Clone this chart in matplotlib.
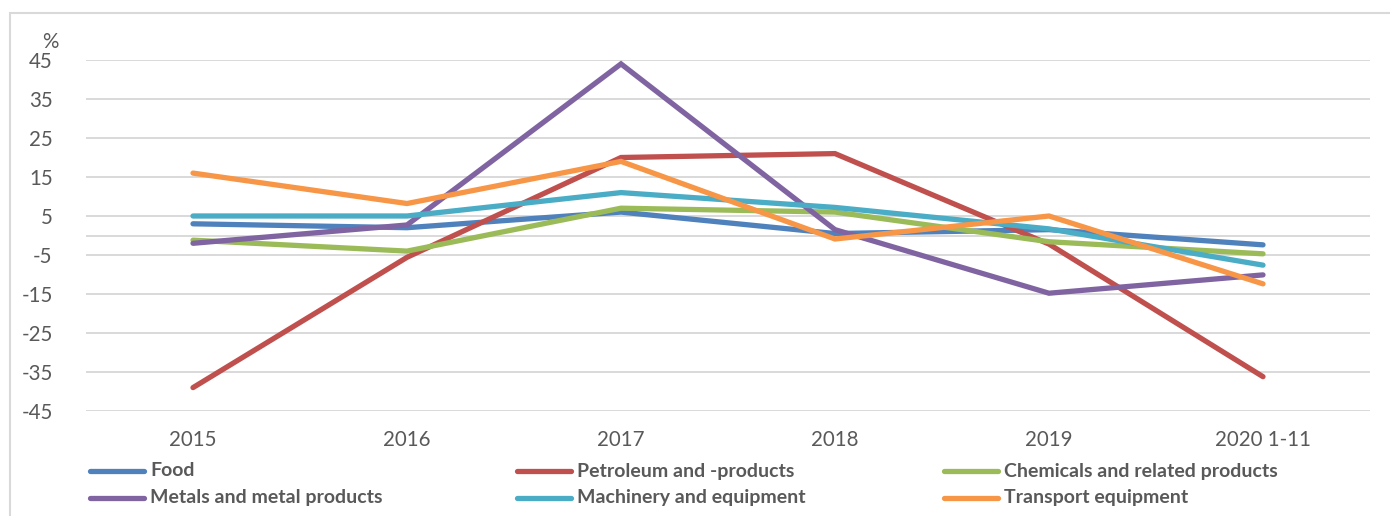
import numpy as np
from matplotlib import pyplot as plt
from matplotlib.lines import Line2D
from matplotlib.patches import Rectangle

years = ['2015', '2016', '2017', '2018', '2019', '2020 1-11']

food = [3, 2, 6, 0.5, 1.5, -2.4]
petroleum = [-39, -5.6, 20, 21, -2.2, -36.2]
chemicals = [-1.2, -4, 7, 6, -1.6, -4.7]
metals = [-2, 2.7, 44, 1.5, -14.8, -10.1]
machinery = [5, 5, 11, 7.2, 1.7, -7.6]
transport = [16, 8.2, 19, -0.9, 5, -12.4]

series = [
    ('Food', food, '#4F81BD'),
    ('Petroleum and -products', petroleum, '#C0504D'),
    ('Chemicals and related products', chemicals, '#9BBB59'),
    ('Metals and metal products', metals, '#8064A2'),
    ('Machinery and equipment', machinery, '#4BACC6'),
    ('Transport equipment', transport, '#F79646'),
]

W, H = 1390, 516
fig = plt.figure(figsize=(W / 100, H / 100), dpi=100)
ax = fig.add_axes([86 / W, 1 - 411 / H, (1370 - 86) / W, (411 - 60) / H])

# chart frame (only left and top edges show)
fig.add_artist(Rectangle((10 / W, -0.1), 1.2, 1.1 - 13 / H, transform=fig.transFigure,
                         fill=False, edgecolor='#D9D9D9', linewidth=1.5))

x = np.arange(len(years))
for name, vals, col in series:
    ax.plot(x, vals, color=col, linewidth=3.8, solid_capstyle='round',
            solid_joinstyle='miter', zorder=3)

ax.set_xlim(-0.5, len(years) - 0.5)
ax.set_ylim(-45, 45)
yt = np.arange(-45, 46, 10)
ax.set_yticks(yt)
ax.set_yticklabels([str(v) for v in yt])
ax.set_xticks(x)
ax.set_xticklabels(years)
for v in list(yt) + [0]:
    ax.axhline(v, color='#D9D9D9', linewidth=1.4, zorder=1)
for s in ax.spines.values():
    s.set_visible(False)
ax.tick_params(length=0, labelsize=14.8, labelcolor='#595959')
ax.tick_params(axis='y', pad=24)
ax.tick_params(axis='x', pad=14)
for lab in ax.get_xticklabels() + ax.get_yticklabels():
    lab.set_fontfamily('Lato')

fig.text(50 / W, 1 - 42 / H, '%', ha='center', va='center', fontsize=14.8,
         color='#595959', family='Lato')

# legend, 3 fixed columns x 2 rows
col_x = [90, 517, 944]
row_y = [471, 498]
for i, (name, vals, col) in enumerate(series):
    cx = col_x[i % 3]
    cy = 1 - row_y[i // 3] / H
    fig.add_artist(Line2D([cx / W, (cx + 54) / W], [cy, cy], transform=fig.transFigure,
                          color=col, linewidth=3.8, solid_capstyle='round'))
    fig.text((cx + 60) / W, cy, name, ha='left', va='center', fontsize=14,
             fontweight='bold', color='#595959', family='Lato')

fig.savefig('out.png', dpi=100)
